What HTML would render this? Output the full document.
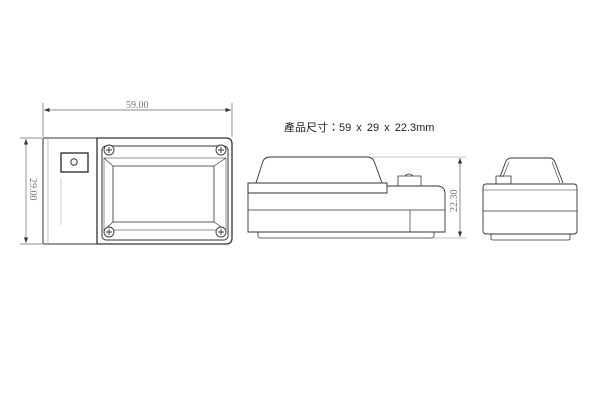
<!DOCTYPE html>
<html><head><meta charset="utf-8"><style>
html,body{margin:0;padding:0;background:#fff;width:600px;height:400px;overflow:hidden}
svg{display:block}
text{font-family:"Liberation Serif",serif;fill:#777;stroke:none}
</style></head><body>
<svg width="600" height="400" viewBox="0 0 600 400" fill="none" stroke="#333" stroke-width="1">
<defs><marker id="a" markerWidth="8" markerHeight="6" refX="8" refY="3" orient="auto-start-reverse"><path d="M0,0 L8,3 L0,6 z" fill="#333" stroke="none"/></marker></defs>
<!-- top dim -->
<g stroke="#666" stroke-width="0.7">
<line x1="43" y1="103" x2="43" y2="137"/><line x1="232" y1="103" x2="232" y2="137"/>
<line x1="44" y1="110" x2="231" y2="110" marker-start="url(#a)" marker-end="url(#a)"/>
<line x1="20" y1="138" x2="42" y2="138"/><line x1="20" y1="244" x2="42" y2="244"/>
<line x1="26" y1="139" x2="26" y2="243" marker-start="url(#a)" marker-end="url(#a)"/>
</g>
<text x="126" y="108" font-size="10">59.00</text>
<text transform="translate(30,178) rotate(90)" font-size="10">29.00</text>
<!-- top view -->
<rect x="43" y="138" width="54" height="106" rx="1"/>
<line x1="48" y1="138" x2="48" y2="244" stroke="#999" stroke-width="0.6"/>
<line x1="61" y1="178" x2="61" y2="225" stroke="#aaa" stroke-width="0.6"/>
<rect x="61" y="153" width="27" height="19" stroke-width="1.4"/>
<circle cx="74" cy="162" r="3.2"/>
<path d="M97 138 H226 Q232 138 232 144 V238 Q232 244 226 244 H97 Z" stroke-width="1.3"/>
<rect x="102" y="146" width="126" height="94" rx="4"/>
<rect x="104" y="158" width="122" height="72" stroke="#666" stroke-width="0.7"/>
<rect x="113" y="166" width="101" height="56" stroke-width="0.8"/>
<line x1="104" y1="158" x2="113" y2="166" stroke-width="0.7"/><line x1="226" y1="158" x2="214" y2="166" stroke-width="0.7"/>
<line x1="104" y1="230" x2="113" y2="222" stroke-width="0.7"/><line x1="226" y1="230" x2="214" y2="222" stroke-width="0.7"/>
<g stroke-width="0.9" fill="#fff">
<circle cx="109" cy="150" r="5"/><circle cx="221" cy="150" r="5"/><circle cx="109" cy="232" r="5"/><circle cx="221" cy="232" r="5"/>
</g>
<g stroke-width="0.9">
<path d="M106 150h6M109 147v6M218 150h6M221 147v6M106 232h6M109 229v6M218 232h6M221 229v6"/>
</g>
<!-- text -->
<text x="284" y="131" font-size="11" word-spacing="2" style="font-family:'Liberation Sans','Noto Sans CJK TC',sans-serif;fill:#222">產品尺寸：59 x 29 x 22.3mm</text>
<!-- side view -->
<path d="M256 183 L263 161 Q265 157 270 157 H367 Q372 157 374 161 L382 183" stroke-width="0.9"/>
<line x1="372" y1="157" x2="466" y2="157" stroke="#888" stroke-width="0.6"/>
<path d="M248 183 H387 V193 H248 Z" stroke-width="0.9"/>
<path d="M387 186 H437 Q445 186 445 194 V232 H248 V183" stroke-width="0.9"/>
<line x1="248" y1="210" x2="445" y2="210" stroke-width="0.7"/>
<line x1="410" y1="210" x2="410" y2="232" stroke-width="0.7"/>
<path d="M258 232 V236 Q258 238 261 238 H431 Q434 238 434 236 V232" stroke-width="0.8"/>
<line x1="434" y1="238" x2="466" y2="238" stroke="#888" stroke-width="0.6"/>
<path d="M398 186 V176 H421 V186" stroke-width="0.8"/>
<path d="M405 176 Q409 172 413 176" stroke-width="0.6"/>
<line x1="460" y1="158" x2="460" y2="237" stroke="#555" stroke-width="0.7" marker-start="url(#a)" marker-end="url(#a)"/>
<text transform="translate(457,212) rotate(-90)" font-size="10">22.30</text>
<!-- end view -->
<path d="M500 177 L506 161 Q508 158 511 158 H550 Q553 158 555 162 L563 183" stroke-width="0.9"/>
<path d="M503 177 L509 162 M560 183 L552 162" stroke-width="0.6"/>
<path d="M496 184 V176 H511 V184" stroke-width="0.8"/>
<rect x="483" y="184" width="94" height="50" rx="3" stroke-width="0.9"/>
<line x1="483" y1="190" x2="577" y2="190" stroke-width="0.6"/>
<line x1="483" y1="211" x2="577" y2="211" stroke-width="0.7"/>
<path d="M491 234 V239 Q491 240 493 240 H568 Q570 240 570 239 V234" stroke-width="0.8"/>
</svg>
</body></html>
